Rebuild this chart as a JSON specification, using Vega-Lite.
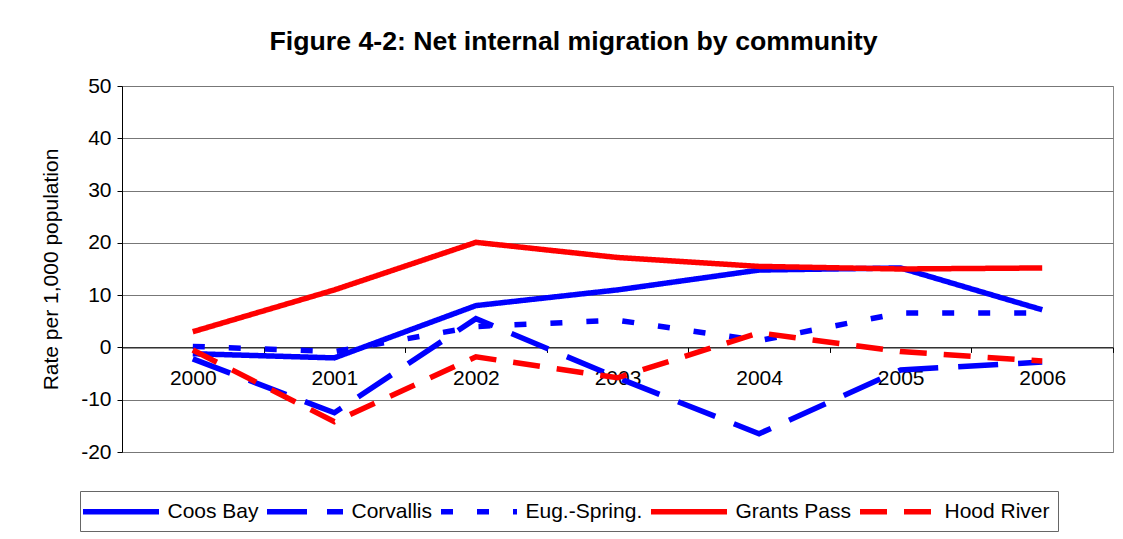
{
  "$schema": "https://vega.github.io/schema/vega-lite/v6.json",
  "autosize": "none",
  "width": 991,
  "height": 366,
  "padding": {"left": 122, "top": 86, "right": 10, "bottom": 87},
  "background": "white",
  "title": {
    "text": "Figure 4-2: Net internal migration by community",
    "font": "Liberation Sans",
    "fontSize": 26.7,
    "fontWeight": "bold",
    "color": "black",
    "anchor": "middle",
    "dx": -44,
    "offset": 19
  },
  "data": {
    "values": [
      {"year": "2000", "community": "Coos Bay", "value": -1.2},
      {"year": "2001", "community": "Coos Bay", "value": -2.0},
      {"year": "2002", "community": "Coos Bay", "value": 8.0},
      {"year": "2003", "community": "Coos Bay", "value": 11.0},
      {"year": "2004", "community": "Coos Bay", "value": 14.8},
      {"year": "2005", "community": "Coos Bay", "value": 15.2},
      {"year": "2006", "community": "Coos Bay", "value": 7.2},
      {"year": "2000", "community": "Corvallis", "value": -2.2},
      {"year": "2001", "community": "Corvallis", "value": -12.5},
      {"year": "2002", "community": "Corvallis", "value": 5.5},
      {"year": "2003", "community": "Corvallis", "value": -5.8},
      {"year": "2004", "community": "Corvallis", "value": -16.5},
      {"year": "2005", "community": "Corvallis", "value": -4.3},
      {"year": "2006", "community": "Corvallis", "value": -2.8},
      {"year": "2000", "community": "Eug.-Spring.", "value": 0.2},
      {"year": "2001", "community": "Eug.-Spring.", "value": -0.8},
      {"year": "2002", "community": "Eug.-Spring.", "value": 4.0},
      {"year": "2003", "community": "Eug.-Spring.", "value": 5.2},
      {"year": "2004", "community": "Eug.-Spring.", "value": 1.3},
      {"year": "2005", "community": "Eug.-Spring.", "value": 6.6},
      {"year": "2006", "community": "Eug.-Spring.", "value": 6.6},
      {"year": "2000", "community": "Grants Pass", "value": 3.0},
      {"year": "2001", "community": "Grants Pass", "value": 11.0},
      {"year": "2002", "community": "Grants Pass", "value": 20.1},
      {"year": "2003", "community": "Grants Pass", "value": 17.2},
      {"year": "2004", "community": "Grants Pass", "value": 15.5},
      {"year": "2005", "community": "Grants Pass", "value": 15.0},
      {"year": "2006", "community": "Grants Pass", "value": 15.2},
      {"year": "2000", "community": "Hood River", "value": -0.5},
      {"year": "2001", "community": "Hood River", "value": -14.2},
      {"year": "2002", "community": "Hood River", "value": -1.8},
      {"year": "2003", "community": "Hood River", "value": -5.8},
      {"year": "2004", "community": "Hood River", "value": 2.8},
      {"year": "2005", "community": "Hood River", "value": -0.8},
      {"year": "2006", "community": "Hood River", "value": -2.6}
    ]
  },
  "mark": {"type": "line", "strokeCap": "butt", "strokeJoin": "miter"},
  "encoding": {
    "x": {
      "field": "year",
      "type": "nominal",
      "bandPosition": 0.5,
      "scale": {"type": "band", "paddingInner": 0, "paddingOuter": 0},
      "axis": {
        "title": null,
        "labelAngle": 0,
        "tickBand": "extent",
        "offset": -104.57,
        "grid": false,
        "domainColor": "black",
        "tickColor": "black",
        "tickSize": 5,
        "labelPadding": 15,
        "labelFont": "Liberation Sans",
        "labelFontSize": 21,
        "labelColor": "black"
      }
    },
    "y": {
      "field": "value",
      "type": "quantitative",
      "scale": {"domain": [-20, 50], "nice": false, "zero": false},
      "axis": {
        "title": "Rate per 1,000 population",
        "titleFont": "Liberation Sans",
        "titleFontSize": 21,
        "titleFontWeight": "normal",
        "titleColor": "black",
        "titlePadding": 19,
        "values": [-20, -10, 0, 10, 20, 30, 40, 50],
        "labelExpr": "replace(datum.label, '\u2212', '-')",
        "grid": true,
        "gridColor": "#777777",
        "gridWidth": 1,
        "domainColor": "black",
        "tickColor": "black",
        "tickSize": 5,
        "labelPadding": 6,
        "labelFont": "Liberation Sans",
        "labelFontSize": 21,
        "labelColor": "black"
      }
    },
    "color": {
      "field": "community",
      "type": "nominal",
      "scale": {
        "domain": ["Coos Bay", "Corvallis", "Eug.-Spring.", "Grants Pass", "Hood River"],
        "range": ["#0000ff", "#0000ff", "#0000ff", "#ff0000", "#ff0000"]
      },
      "legend": {"title": null}
    },
    "strokeDash": {
      "field": "community",
      "type": "nominal",
      "scale": {
        "domain": ["Coos Bay", "Corvallis", "Eug.-Spring.", "Grants Pass", "Hood River"],
        "range": [[1, 0], [40, 20], [12, 24], [1, 0], [27, 17]]
      },
      "legend": {"title": null}
    },
    "strokeWidth": {
      "field": "community",
      "type": "nominal",
      "scale": {
        "domain": ["Coos Bay", "Corvallis", "Eug.-Spring.", "Grants Pass", "Hood River"],
        "range": [5.5, 5.5, 5.5, 3, 3]
      },
      "legend": {"title": null}
    }
  },
  "config": {
    "view": {"stroke": "#888888", "strokeWidth": 1},
    "legend": {
      "orient": "none",
      "legendX": -42,
      "legendY": 405,
      "direction": "horizontal",
      "symbolType": "M-4,0H4",
      "symbolSize": 361,
      "symbolOffset": 20.5,
      "labelFont": "Liberation Sans",
      "labelFontSize": 21,
      "labelColor": "black",
      "labelOffset": 34,
      "columnPadding": -3,
      "padding": 8,
      "strokeColor": "#666666",
      "fillColor": "white",
      "labelLimit": 300
    }
  }
}
